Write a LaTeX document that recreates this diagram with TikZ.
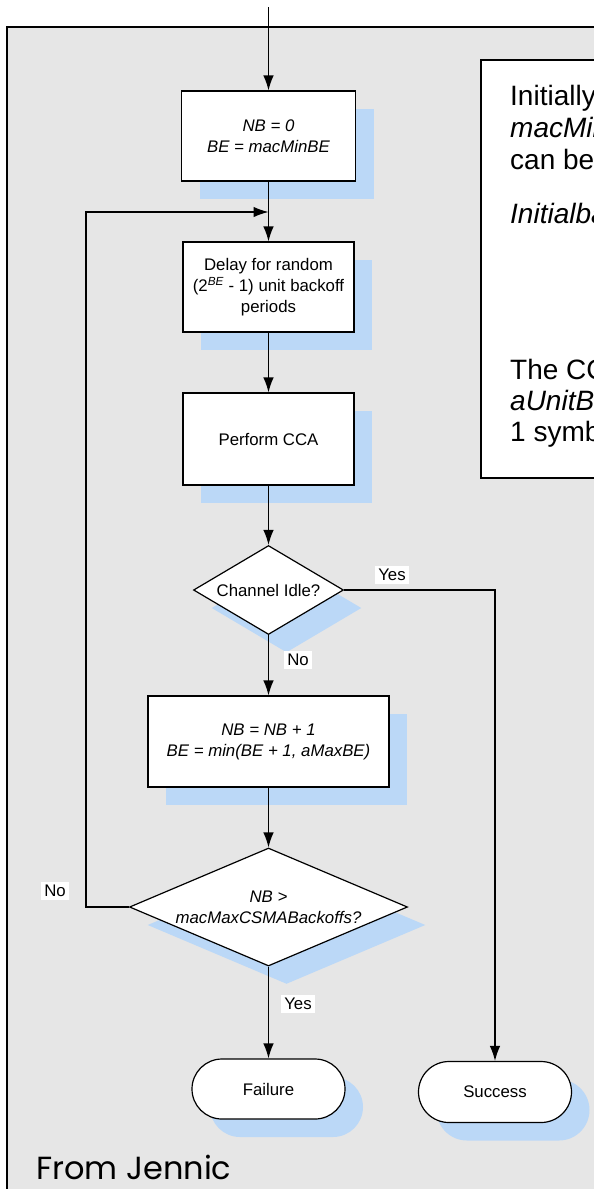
\documentclass[tikz,border=0pt]{standalone}
\usepackage{fontspec}
\setmainfont{Liberation Sans}
\newfontfamily\handfont{Poppins}
\usetikzlibrary{shapes.geometric,shapes.misc,shadows,arrows.meta}
\definecolor{panelgray}{RGB}{230,230,230}
\definecolor{shblue}{RGB}{187,216,247}
\begin{document}
\begin{tikzpicture}[x=1pt,y=-1pt,
  sh/.style={general shadow={fill=shblue,shadow xshift=18pt,shadow yshift=-18pt}},
  base/.style={draw=black,line width=1.2pt,fill=white,sh,align=center,inner sep=0pt,
    font=\fontsize{16.8}{21}\selectfont},
  proc/.style={base,rectangle},
  dec/.style={base,diamond},
  term/.style={base,rounded rectangle,rounded rectangle arc length=180},
  lbl/.style={fill=white,inner sep=3pt,font=\fontsize{16.8}{19}\selectfont},
  conn/.style={line width=1.2pt},
  arr/.style={conn,-{Latex[length=15pt,width=10.5pt]}},
  note/.style={font=\fontsize{28}{32}\selectfont,anchor=base west,inner sep=0pt}
]
\useasboundingbox (0,0) rectangle (594,1189);
\clip (0,0) rectangle (594,1189);
% panel
\path[fill=panelgray,draw=black,line width=1.3pt] (7,27) rectangle (640,1230);
% right note box
\node[draw=black,line width=1.3pt,fill=white,minimum width=170pt,minimum height=418pt,inner sep=0pt] (notebox) at (566,269) {};
\node[note] (t1) at (510,105) {Initially, NB = 0};
\node[note] (t2) at (510,137) {\itshape macMinBE};
\node[note] (t3) at (510,169) {can be};
\node[note] (t4) at (510,223) {\itshape Initialbackoff};
\node[note] (t5) at (510,379) {The CCA};
\node[note] (t6) at (510,410) {\itshape aUnitBackoff};
\node[note] (t7) at (510,441) {1 symbol};
% flowchart
\coordinate (start) at (268.5,7);
\node[proc,minimum width=174pt,minimum height=90pt] (b1) at (268.5,136) {\itshape NB = 0\\\itshape BE = macMinBE};
\node[proc,minimum width=171pt,minimum height=90pt] (b2) at (268.5,287) {Delay for random\\(2\textsuperscript{\itshape BE} - 1) unit backoff\\periods};
\node[proc,minimum width=171pt,minimum height=92pt] (b3) at (268.5,439) {Perform CCA};
\node[dec,minimum width=150pt,minimum height=89pt,shape aspect=1.69] (d1) at (268.5,590) {Channel Idle?};
\node[proc,minimum width=241pt,minimum height=91pt] (b4) at (268.5,741.5) {\itshape NB = NB + 1\\\itshape BE = min(BE + 1, aMaxBE)};
\node[dec,minimum width=278pt,minimum height=118pt,shape aspect=2.36] (d2) at (268.5,907) {\itshape NB >\\\itshape macMaxCSMABackoffs?};
\node[term,minimum width=153pt,minimum height=60pt] (fail) at (268.5,1089) {Failure};
\node[term,minimum width=153pt,minimum height=61pt] (succ) at (495,1092) {Success};
\coordinate (c1) at (86,907);
\coordinate (c2) at (86,212);
\coordinate (join) at (268.5,212);
% connectors
\draw[arr] (start) -- (b1);
\draw[arr] (b1) -- (b2);
\draw[arr] (b2) -- (b3);
\draw[arr] (b3) -- (d1);
\draw[arr] (d1) -- (b4);
\draw[arr] (b4) -- (d2);
\draw[arr] (d2) -- (fail);
\draw[arr] (d1.east) -| (succ.north);
\draw[arr] (d2.west) -- (c1) -- (c2) -- (join);
% labels
\node[lbl] (yes1) at (392,575) {Yes};
\node[lbl] (no1) at (298,660) {No};
\node[lbl] (yes2) at (298,1004) {Yes};
\node[lbl] (no2) at (55,891) {No};
\node[font=\handfont\fontsize{32}{36}\selectfont,anchor=base west,inner sep=0pt] (src) at (36,1179) {From Jennic};
\end{tikzpicture}
\end{document}
